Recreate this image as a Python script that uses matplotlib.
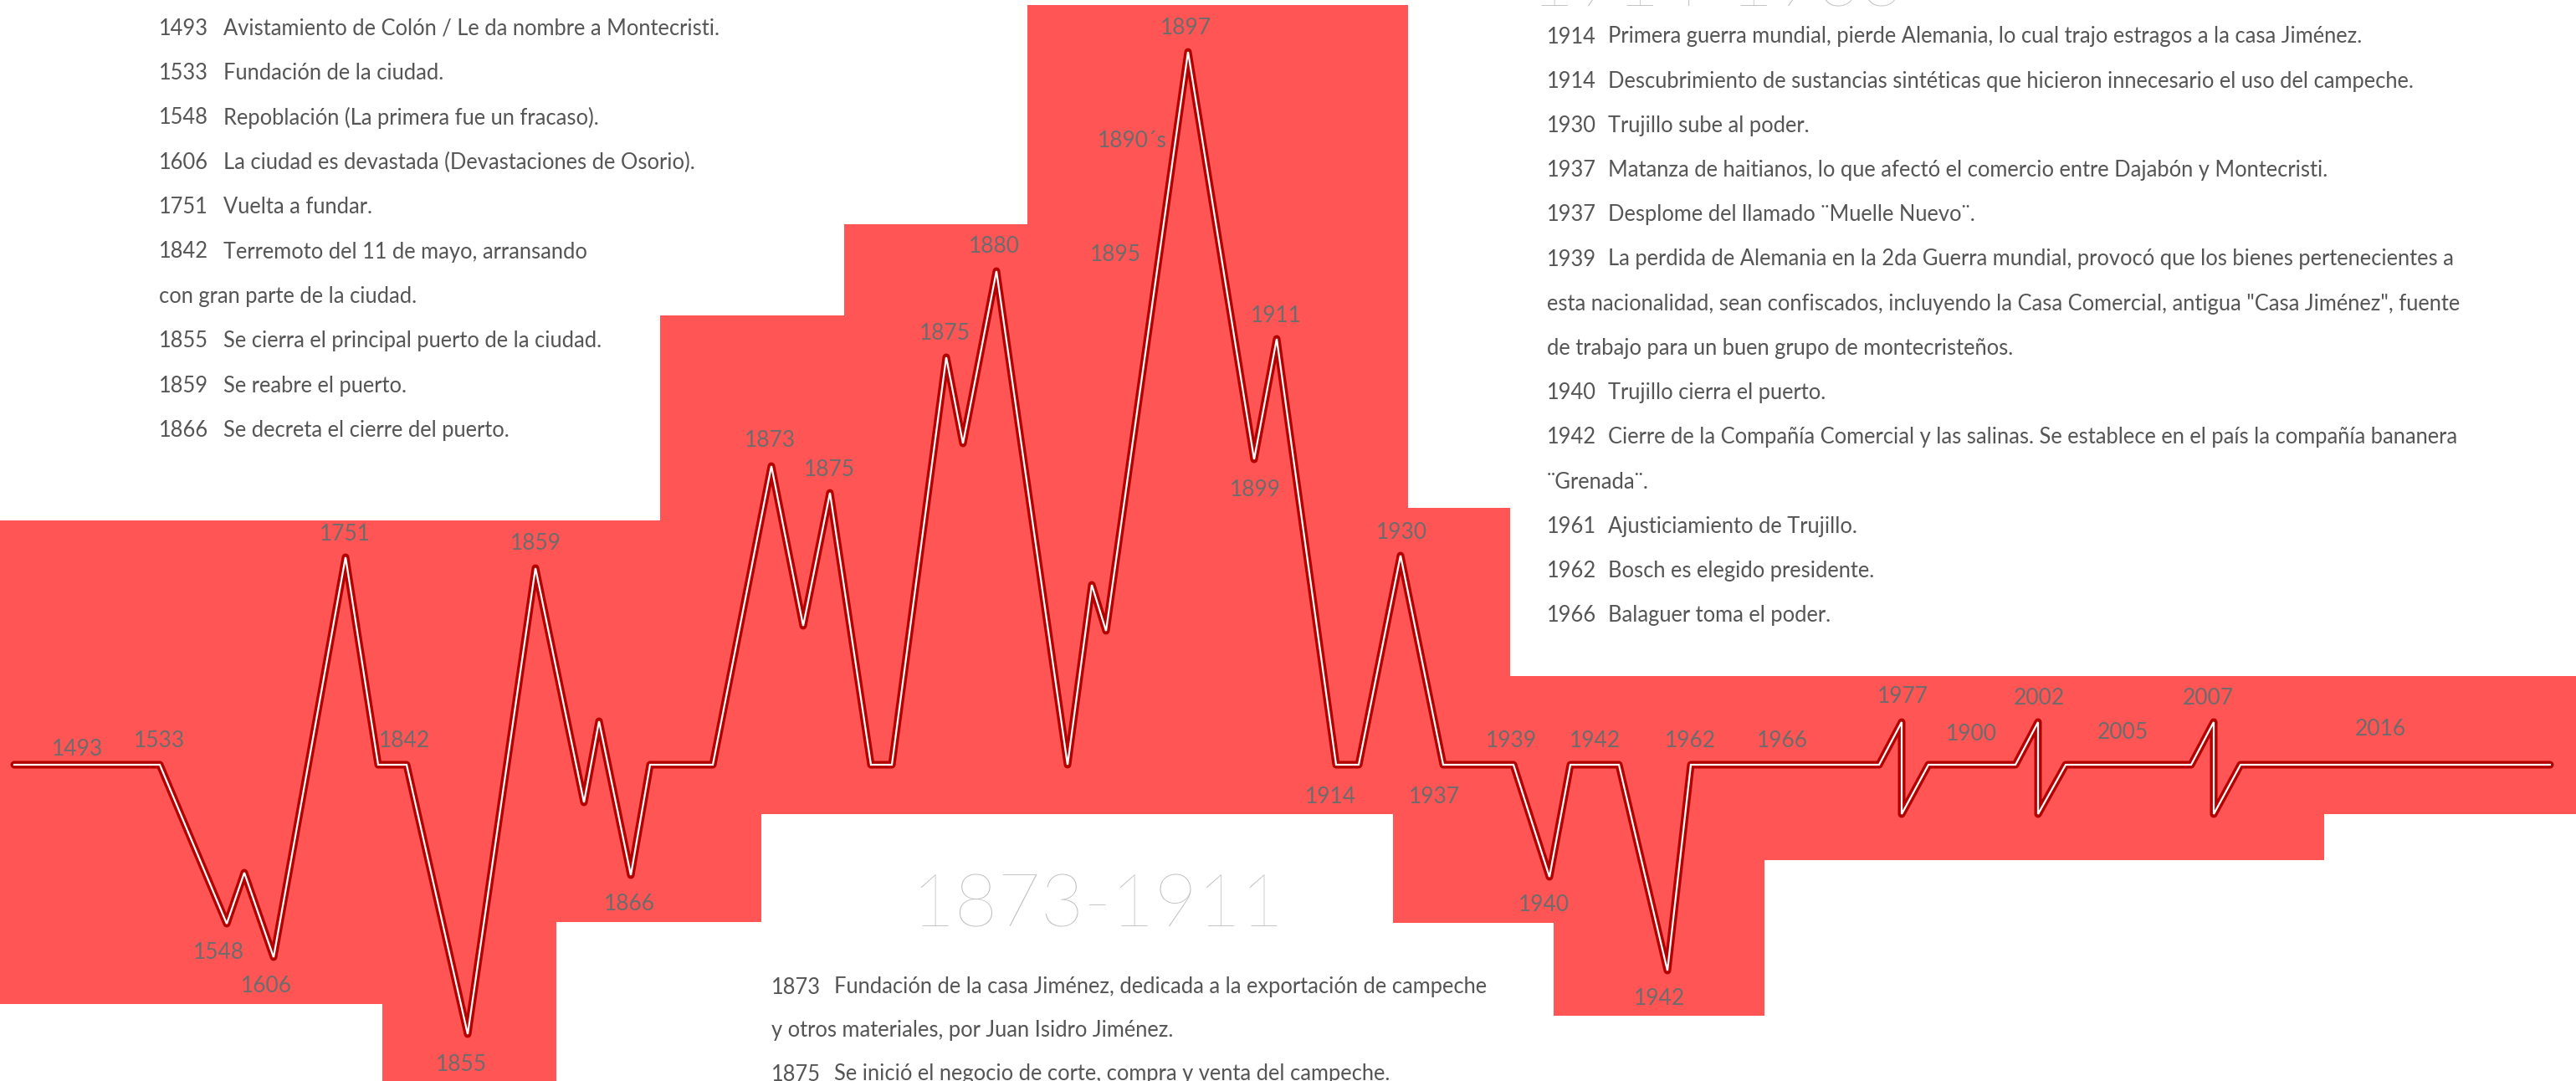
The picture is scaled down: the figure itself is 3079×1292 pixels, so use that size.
import matplotlib.pyplot as plt
import numpy as np

# ---- red background band (step outline, pixel coords) ----
band_x = [0, 457, 665, 789, 910, 1009, 1228, 1665, 1683, 1805, 1857, 2109, 2778, 3079]
band_top = [622, 622, 622, 377, 377, 268, 6, 6, 607, 808, 808, 808, 808, 808]
band_bottom = [1200, 1292, 1102, 1102, 973, 973, 973, 1103, 1103, 1103, 1214, 1028, 973, 973]

# ---- timeline polyline ----
line_x = [17, 191, 271, 292, 327, 413, 452, 486, 559, 640, 698, 716, 754, 777, 852,
          922, 960, 992, 1041, 1066, 1131, 1151, 1191, 1276, 1305, 1322, 1420, 1499,
          1526, 1597, 1624, 1674, 1725, 1809, 1852, 1877, 1935, 1993, 2021, 2246, 2273,
          2273, 2305, 2409, 2436, 2436, 2469, 2619, 2646, 2646, 2678, 3048]
line_y = [914, 914, 1104, 1043, 1144, 666, 914, 914, 1236, 679, 959, 862, 1046, 914, 914,
          557, 748, 589, 914, 914, 427, 530, 324, 914, 699, 754, 62, 549,
          405, 914, 914, 664, 914, 914, 1048, 914, 914, 1160, 914, 914, 863,
          973, 914, 914, 863, 973, 914, 914, 863, 973, 914, 914]

# ---- year labels on the timeline ----
label_text = ["1493", "1533", "1548", "1606", "1751", "1842", "1855", "1859", "1866",
              "1873", "1875", "1875", "1880", "1890´s", "1895", "1897", "1899", "1911",
              "1914", "1930", "1937", "1939", "1940", "1942", "1942", "1962", "1966",
              "1977", "1900", "2002", "2005", "2007", "2016"]
label_x = [47, 97, 133, 162, 210, 246, 281, 326, 383,
           469, 505, 575, 605, 689, 679, 722, 764, 777,
           810, 853, 873, 920, 940, 971, 1010, 1029, 1085,
           1158, 1200, 1241, 1292, 1344, 1449]
label_y = [456, 451, 580, 600, 325, 451, 648, 331, 550,
           268, 286, 203, 150, 86, 155, 17, 298, 192,
           485, 324, 485, 451, 551, 451, 608, 451, 451,
           424, 447, 425, 446, 425, 444]

# ---- event texts ----
left_years = ["1493", "1533", "1548", "1606", "1751", "1842", "", "1855", "1859", "1866"]
left_texts = ["Avistamiento de Colón / Le da nombre a Montecristi.",
              "Fundación de la ciudad.",
              "Repoblación (La primera fue un fracaso).",
              "La ciudad es devastada (Devastaciones de Osorio).",
              "Vuelta a fundar.",
              "Terremoto del 11 de mayo, arransando",
              "con gran parte de la ciudad.",
              "Se cierra el principal puerto de la ciudad.",
              "Se reabre el puerto.",
              "Se decreta el cierre del puerto."]

right_years = ["1914", "1914", "1930", "1937", "1937", "1939", "", "", "1940", "1942", "",
               "1961", "1962", "1966"]
right_texts = ["Primera guerra mundial, pierde Alemania, lo cual trajo estragos a la casa Jiménez.",
               "Descubrimiento de sustancias sintéticas que hicieron innecesario el uso del campeche.",
               "Trujillo sube al poder.",
               "Matanza de haitianos, lo que afectó el comercio entre Dajabón y Montecristi.",
               "Desplome del llamado ¨Muelle Nuevo¨.",
               "La perdida de Alemania en la 2da Guerra mundial, provocó que los bienes pertenecientes a",
               "esta nacionalidad, sean confiscados, incluyendo la Casa Comercial, antigua \"Casa Jiménez\", fuente",
               "de trabajo para un buen grupo de montecristeños.",
               "Trujillo cierra el puerto.",
               "Cierre de la Compañía Comercial y las salinas. Se establece en el país la compañía bananera",
               "¨Grenada¨.",
               "Ajusticiamiento de Trujillo.",
               "Bosch es elegido presidente.",
               "Balaguer toma el poder."]

bottom_years = ["1873", "", "1875"]
bottom_texts = ["Fundación de la casa Jiménez, dedicada a la exportación de campeche",
                "y otros materiales, por Juan Isidro Jiménez.",
                "Se inició el negocio de corte, compra y venta del campeche."]

W, H = 3079, 1292
S = W / 1568.0

fig = plt.figure(figsize=(W / 100, H / 100), dpi=100)
ax = fig.add_axes([0, 0, 1, 1])
ax.set_xlim(0, W)
ax.set_ylim(H, 0)
ax.axis('off')

red = '#ff5555'
ax.fill_between(band_x, band_top, band_bottom, step='post', color=red, lw=0, zorder=1)

ax.plot(line_x, line_y, color='#b50000', lw=6.5, solid_joinstyle='round',
        solid_capstyle='round', zorder=3)
ax.plot(line_x, line_y, color='white', lw=1.6, solid_joinstyle='miter', zorder=4)

fam = ['Lato', 'DejaVu Sans']
for t, x, y in zip(label_text, label_x, label_y):
    ax.text(x * S, y * S, t, ha='center', va='center', fontsize=19, color='#6c6c6c',
            family=fam, zorder=5)

body = dict(fontsize=18.4, color='#555555', family=fam, va='center', zorder=5)

def block(years, texts, x_year, x_text, y0, dy):
    for i, (yr, tx) in enumerate(zip(years, texts)):
        y = y0 + i * dy
        if yr:
            ax.text(x_year, y, yr, **body)
            ax.text(x_text, y, tx, **body)
        else:
            ax.text(x_year, y, tx, **body)

block(left_years, left_texts, 190, 267, 34, 53.4)
block(right_years, right_texts, 1849, 1922, 44, 53.2)
block(bottom_years, bottom_texts, 922, 997, 1180, 52)

ax.text(1312, 1084, "1873-1911", ha='center', va='center', fontsize=64, color='#bdbdbd',
        family=fam, fontweight='light', zorder=5)
ax.text(2052, 8, "1914-1966", ha='center', va='baseline', fontsize=64, color='#bdbdbd',
        family=fam, fontweight='light', zorder=5)

fig.savefig('out.png', dpi=100, facecolor='white')
